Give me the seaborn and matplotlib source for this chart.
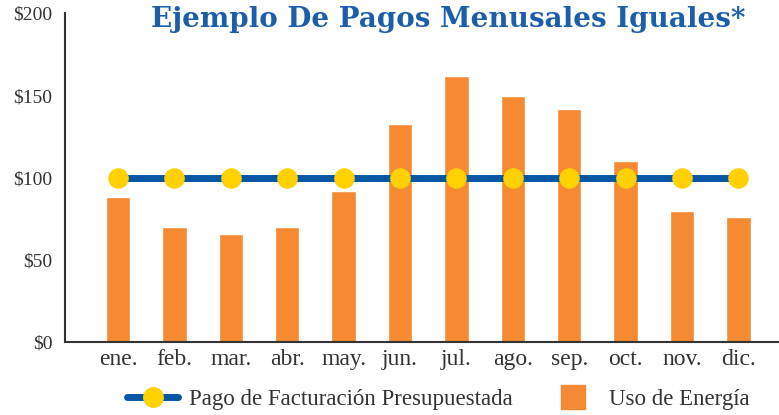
import matplotlib
matplotlib.use('Agg')
import matplotlib.pyplot as plt
import seaborn as sns
import pandas as pd
from matplotlib.lines import Line2D

# Datos
meses = ['ene.', 'feb.', 'mar.', 'abr.', 'may.', 'jun.', 'jul.', 'ago.', 'sep.', 'oct.', 'nov.', 'dic.']
uso_energia = [88, 70, 66, 70, 92, 133, 162, 150, 142, 110, 80, 76]
pago_presupuestado = [100, 100, 100, 100, 100, 100, 100, 100, 100, 100, 100, 100]
y_ticks = [0, 50, 100, 150, 200]
y_labels = ['$0', '$50', '$100', '$150', '$200']

naranja = '#f58a32'
azul = '#0557a5'
amarillo = '#ffd100'
gris = '#333333'

df = pd.DataFrame({'mes': meses, 'uso': uso_energia, 'pago': pago_presupuestado})

sns.set_style('white')
plt.rcParams['font.family'] = ['Liberation Serif', 'DejaVu Serif']

fig = plt.figure(figsize=(7.79, 4.15), dpi=100)
ax = fig.add_axes([0.0834, 0.176, 0.9166, 0.7915])

sns.barplot(data=df, x='mes', y='uso', color=naranja, width=0.43, saturation=1, ax=ax, zorder=2)
sns.lineplot(x=range(len(meses)), y=df['pago'], color=azul, linewidth=5, marker='o',
             markersize=14, markerfacecolor=amarillo, markeredgecolor=amarillo, ax=ax, zorder=3)

ax.set_xlim(-0.94, 11.72)
ax.set_ylim(0, 200)
ax.set_yticks(y_ticks)
ax.set_yticklabels(y_labels)
ax.set_xlabel('')
ax.set_ylabel('')

for s in ['top', 'right']:
    ax.spines[s].set_visible(False)
for s in ['left', 'bottom']:
    ax.spines[s].set_color(gris)
    ax.spines[s].set_linewidth(1.5)

ax.tick_params(axis='y', direction='in', length=11, width=1.5, color=gris,
               labelsize=14, labelcolor=gris, pad=9)
ax.tick_params(axis='x', length=0, labelsize=17, labelcolor=gris, pad=5)

fig.text(0.576, 0.952, 'Ejemplo De Pagos Menusales Iguales*', ha='center', va='center',
         fontsize=20, fontweight='bold', color='#1d5eab', family='DejaVu Serif')

handles = [
    Line2D([0], [0], color=azul, linewidth=5, marker='o', markersize=14,
           markerfacecolor=amarillo, markeredgecolor=amarillo),
    Line2D([0], [0], linestyle='none', marker='s', markersize=17,
           markerfacecolor=naranja, markeredgecolor=naranja),
]
fig.legend(handles, ['Pago de Facturación Presupuestada', 'Uso de Energía'],
           loc='center', bbox_to_anchor=(0.563, 0.037), ncol=2, frameon=False,
           fontsize=16.5, handlelength=2.2, columnspacing=1.5,
           handletextpad=0.5, labelcolor=gris)

fig.savefig('out.png', dpi=100)
